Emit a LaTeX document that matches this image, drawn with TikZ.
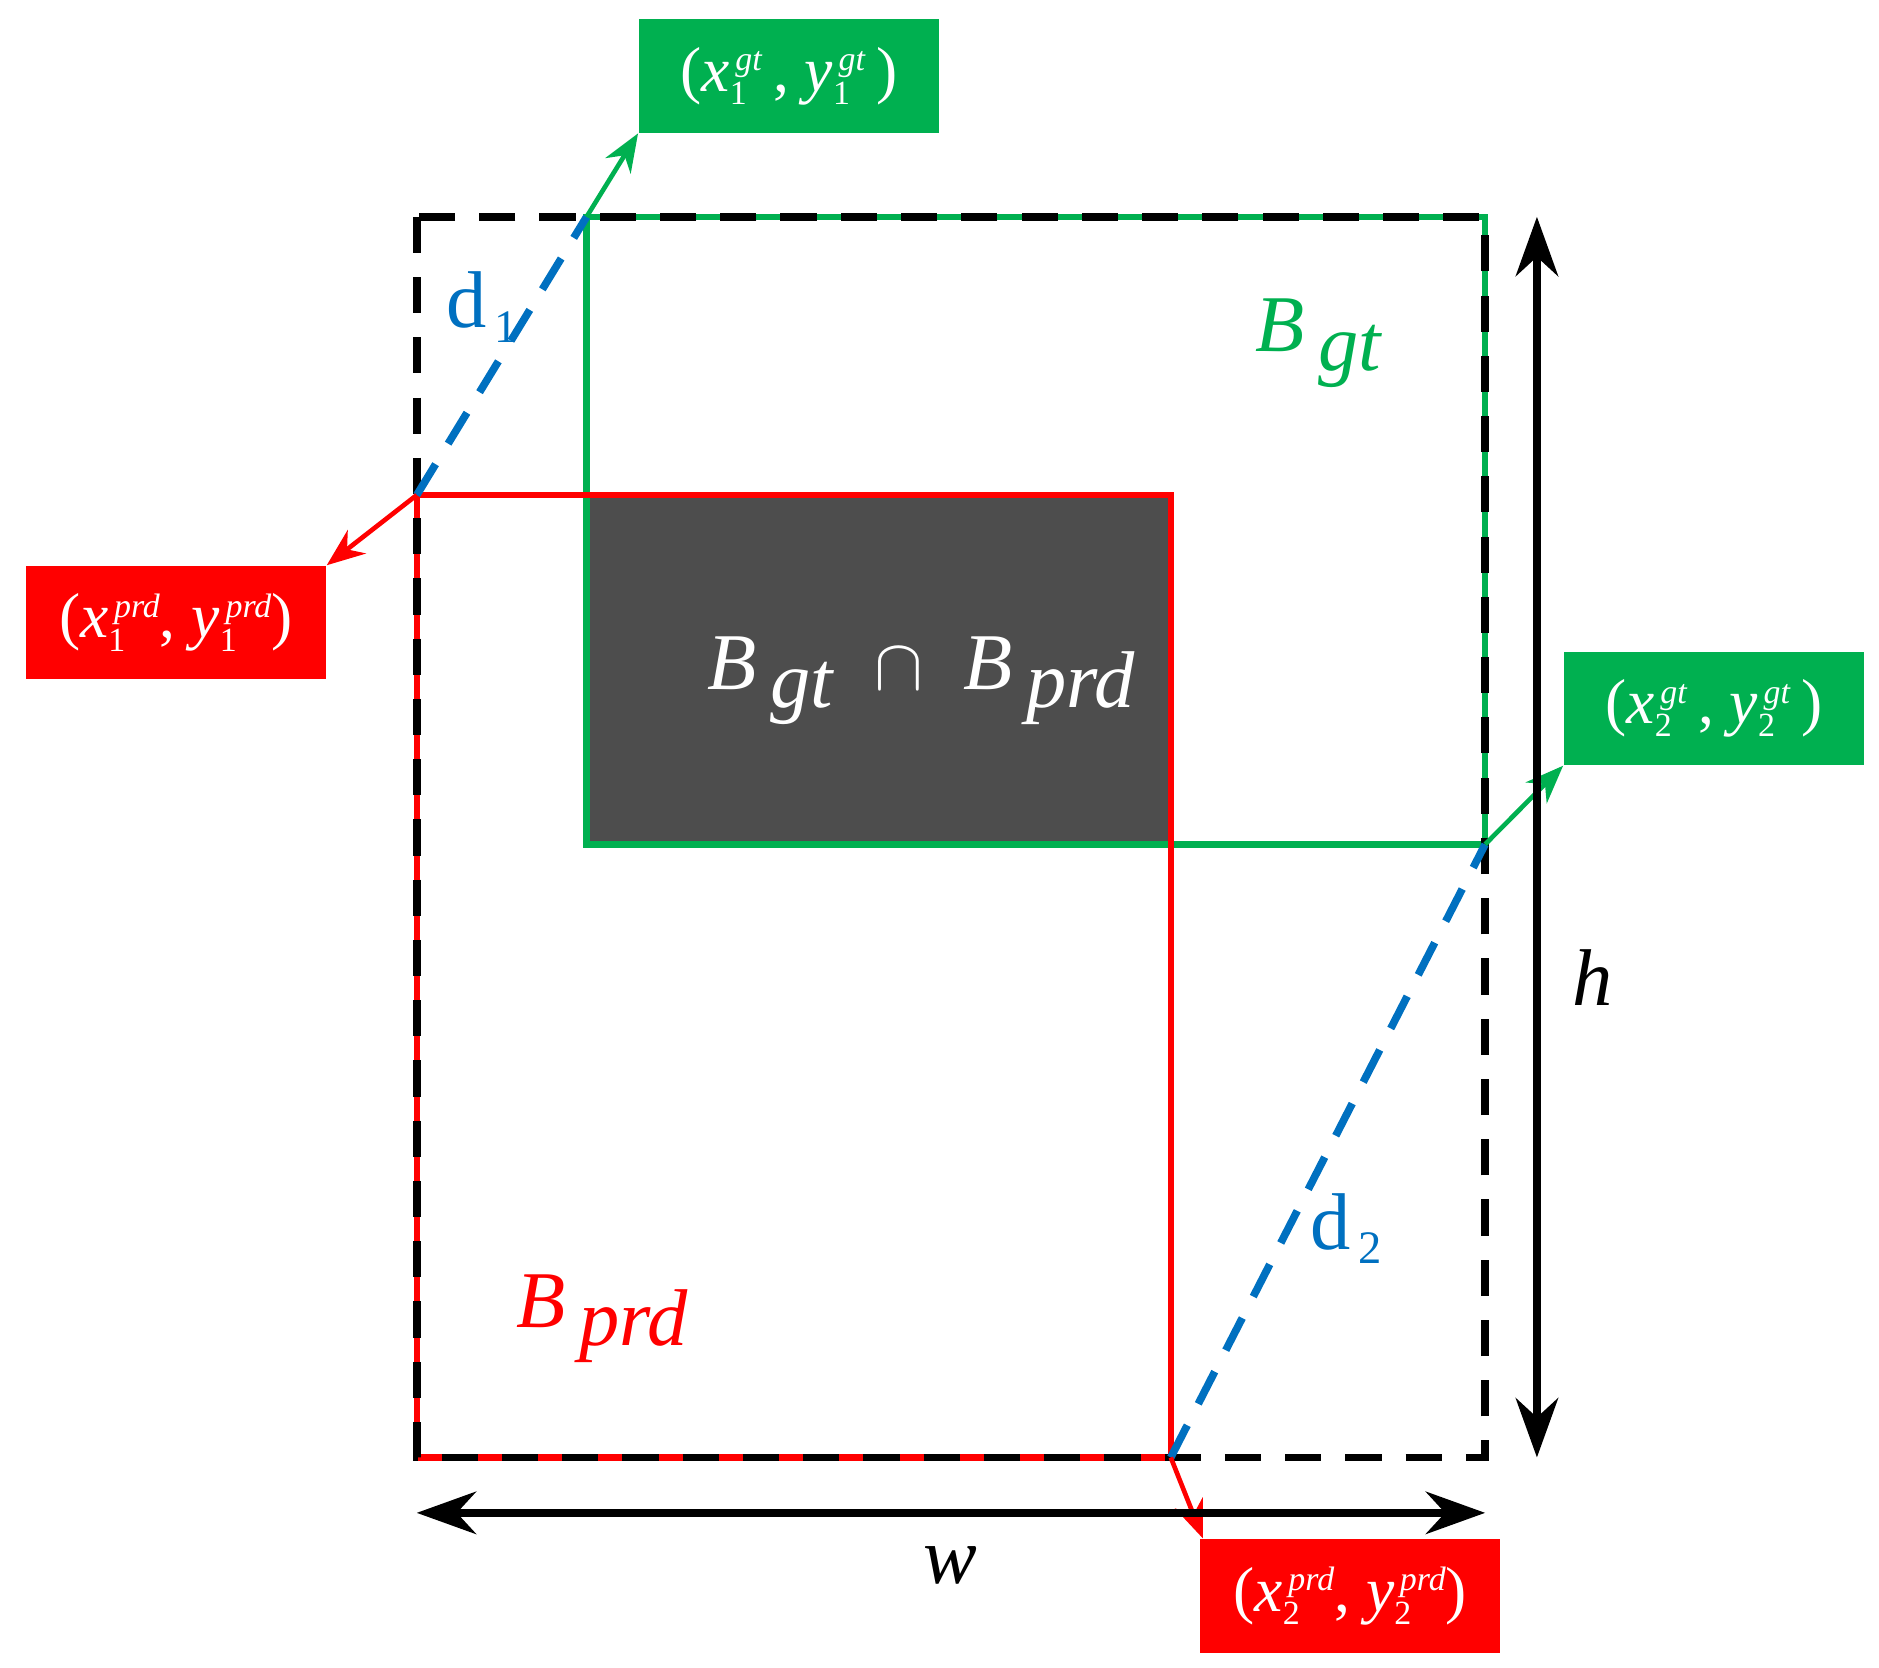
\documentclass[tikz,border=0pt]{standalone}
\usepackage{fontspec}
\setmainfont{Liberation Serif}
\usetikzlibrary{arrows.meta}
\definecolor{gg}{RGB}{0,176,80}
\definecolor{rr}{RGB}{255,0,0}
\definecolor{bb}{RGB}{0,112,192}
\newcommand{\sbs}[3]{\textit{#1}\rlap{\raisebox{-0.45ex}{\fontsize{8}{9}\selectfont #2}}\raisebox{0.7ex}{\fontsize{8}{9}\selectfont\,\textit{#3}}}
\tikzset{
 lab/.style={minimum width=2.49cm,minimum height=0.94cm,inner sep=0pt,text=white,font=\fontsize{15}{17}\selectfont},
 ln/.style={line width=1.5pt},
 blk/.style={line width=1.8pt,dash pattern=on 0.3cm off 0.2cm},
 arr/.style={line width=1.1pt,-{Stealth[length=9pt,width=7pt]}},
 dim/.style={line width=1.8pt,{Stealth[length=14pt,width=10pt]}-{Stealth[length=14pt,width=10pt]}},
 big/.style={font=\fontsize{19}{22}\selectfont}
}
\begin{document}
\begin{tikzpicture}[x=0.01cm,y=-0.01cm]
\useasboundingbox (0,0) rectangle (1560,1384);
\coordinate (A) at (346,180); \coordinate (B) at (1233,180);
\coordinate (C) at (1233,1210); \coordinate (D) at (346,1210);
\coordinate (G1) at (487,180); \coordinate (G2) at (1233,701);
\coordinate (P1) at (346,411); \coordinate (P2) at (972,1210);
\fill[fill={rgb,255:red,77;green,77;blue,77}] (487,411) rectangle (972,701);
\draw[ln,gg] (G1) rectangle (G2);
\draw[ln,rr] (P1) rectangle (P2);
\draw[blk] (A) rectangle (C);
\draw[line width=1.8pt,bb,dash pattern=on 0.3cm off 0.2cm] (P1) -- (G1);
\draw[line width=1.8pt,bb,dash pattern=on 0.3cm off 0.2cm] (P2) -- (G2);
\node[lab,fill=gg] (t1) at (655,63) {(\sbs{x}{1}{gt}\,, \sbs{y}{1}{gt}\,)};
\node[lab,fill=rr] (t2) at (146,517) {(\sbs{x}{1}{prd}, \sbs{y}{1}{prd})};
\node[lab,fill=gg] (t3) at (1423,588) {(\sbs{x}{2}{gt}\,, \sbs{y}{2}{gt}\,)};
\node[lab,fill=rr] (t4) at (1121,1325) {(\sbs{x}{2}{prd}, \sbs{y}{2}{prd})};
\draw[arr,gg] (G1) -- (t1.south west);
\draw[arr,rr] (P1) -- (t2.north east);
\draw[arr,gg] (G2) -- (t3.south west);
\draw[arr,rr] (P2) -- ([xshift=0.03cm]t4.north west);
\coordinate (h1) at (1276,180); \coordinate (h2) at (1276,1210);
\coordinate (w1) at (346,1256); \coordinate (w2) at (1233,1256);
\draw[dim] (h1) -- (h2);
\draw[dim] (w1) -- (w2);
\node[big] (h) at (1322,812) {\textit{h}};
\node[big] (w) at (789,1300) {\textit{w}};
\node[bb,big] (d1) at (400,255) {d\raisebox{-0.4ex}{\fontsize{11}{12}\selectfont\,1}};
\node[bb,big] (d2) at (1118,1020) {d\raisebox{-0.4ex}{\fontsize{11}{12}\selectfont\,2}};
\node[gg,big] (bg) at (1095,285) {\textit{B}\raisebox{-0.5ex}{\,\textit{gt}}};
\node[rr,big] (bp) at (500,1095) {\textit{B}\raisebox{-0.5ex}{\,\textit{prd}}};
\node[white,big] (bi) at (765,565) {\textit{B}\raisebox{-0.5ex}{\,\textit{gt}}\enspace$\cap$\enspace\textit{B}\raisebox{-0.5ex}{\,\textit{prd}}};
\end{tikzpicture}
\end{document}
